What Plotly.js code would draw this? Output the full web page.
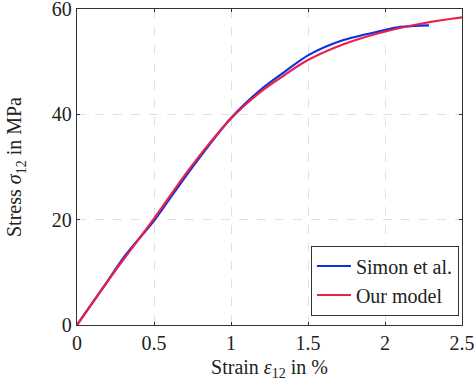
<!DOCTYPE html>
<html><head><meta charset="utf-8">
<script src="https://cdn.plot.ly/plotly-3.0.1.min.js"></script>
<style>html,body{margin:0;padding:0;background:#fff}</style>
</head><body><div id="chart" style="width:474px;height:381px"></div>
<script>
const simonStrain = [0, 0.1, 0.2, 0.3, 0.4, 0.5, 0.6, 0.75, 1.0, 1.19, 1.35, 1.5, 1.73, 1.97, 2.1, 2.286];
const simonStress = [0, 4.2, 8.4, 12.7, 16.3, 19.8, 23.9, 30.0, 39.3, 44.6, 48.1, 51.2, 54.1, 55.8, 56.6, 56.9];
const modelStrain = [0, 0.1, 0.25, 0.35, 0.5, 0.75, 1.0, 1.19, 1.35, 1.5, 1.73, 1.97, 2.25, 2.5];
const modelStress = [0, 4.2, 10.4, 14.3, 20.2, 30.4, 39.2, 44.2, 47.5, 50.3, 53.3, 55.5, 57.3, 58.4];
const xTicks = [0, 0.5, 1, 1.5, 2, 2.5];
const xTickText = ['0', '0.5', '1', '1.5', '2', '2.5'];
const yTicks = [0, 20, 40, 60];
const names = ['Simon et al.', 'Our model'];

const tickFont = {family: 'Liberation Serif, DejaVu Serif, serif', size: 20, color: '#222'};
const titleFont = {family: 'Liberation Serif, DejaVu Serif, serif', size: 20, color: '#222'};
const legendFont = {family: 'Liberation Serif, DejaVu Serif, serif', size: 20, color: '#222'};
const traces = [
  {x: simonStrain, y: simonStress, name: names[0], mode: 'lines', line: {color: '#1030e0', width: 2.2, shape: 'spline', smoothing: 0.8}},
  {x: modelStrain, y: modelStress, name: names[1], mode: 'lines', line: {color: '#ea1f4c', width: 2.2, shape: 'spline'}}
];
const axisCommon = {
  showline: true, linecolor: '#333', linewidth: 1.3, mirror: 'allticks',
  ticks: 'inside', ticklen: 3, tickcolor: '#333',
  showgrid: true, gridcolor: '#e0e0e0', griddash: 'dash', gridwidth: 1,
  zeroline: false, tickfont: tickFont, ticklabeloverflow: 'allow'
};
const layout = {
  width: 474, height: 381,
  margin: {l: 77, r: 12, t: 9, b: 56},
  paper_bgcolor: '#fff', plot_bgcolor: '#fff',
  font: tickFont,
  showlegend: true,
  xaxis: Object.assign({}, axisCommon, {
    range: [0, 2.5], tickvals: xTicks, ticktext: xTickText,
    title: {text: 'Strain <i>ε</i><sub>12</sub> in %', font: titleFont, standoff: 16}
  }),
  yaxis: Object.assign({}, axisCommon, {
    range: [0, 60], tickvals: yTicks,
    title: {text: 'Stress <i>σ</i><sub>12</sub> in MPa', font: titleFont, standoff: 24}
  }),
  legend: {
    x: 0.992, xanchor: 'right', y: 0.03, yanchor: 'bottom',
    bgcolor: '#fff', bordercolor: '#333', borderwidth: 1,
    font: legendFont, itemwidth: 34, tracegroupgap: 0
  }
};
Plotly.newPlot('chart', traces, layout, {displayModeBar: false, staticPlot: true});
</script></body></html>
